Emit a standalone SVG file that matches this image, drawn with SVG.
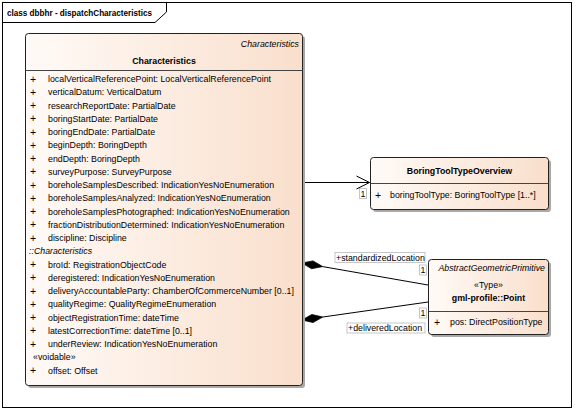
<svg xmlns="http://www.w3.org/2000/svg" width="576" height="413" viewBox="0 0 576 413">
<style>
text{font-family:"Liberation Sans",Arial,sans-serif;font-size:8.8px;fill:#000}
.b{font-weight:bold}
.i{font-style:italic}
.m{text-anchor:middle}
.e{text-anchor:end}
.p{font-size:10.5px}
.box{stroke:#222;stroke-width:1}
.sh{fill:#a9a9a9}
.div{stroke:#444;stroke-width:1}
.ln{stroke:#000;stroke-width:1;fill:none}
.lb{fill:#fff;stroke:#b8b8b8;stroke-width:0.8}
</style>
<defs>
<linearGradient id="g" x1="0" y1="0" x2="1" y2="0">
<stop offset="0" stop-color="#fffaf7"/>
<stop offset="1" stop-color="#f9dfcc"/>
</linearGradient>
</defs>
<rect width="576" height="413" fill="#fff"/>
<g id="frame">
<rect x="2.5" y="2.5" width="569" height="405" fill="none" stroke="#000"/>
<path d="M2.5 22.5 H155 L166.5 12 V2.5" fill="none" stroke="#000"/>
<text x="7" y="15.5" class="b" textLength="145" lengthAdjust="spacingAndGlyphs">class dbbhr - dispatchCharacteristics</text>
</g>
<g id="connectors">
<path class="ln" d="M302 182.5 H369.5"/>
<path class="ln" d="M356.5 176 L369.5 182.5 L356.5 189"/>
<rect class="lb" x="359.5" y="188.5" width="7" height="10"/>
<text x="363" y="196.5" class="m">1</text>
<path class="ln" d="M322.7 266.6 L428 285"/>
<polygon points="302,263 311.6,268.7 322.7,266.6 313,260.9" fill="#000" stroke="#000" stroke-width="0.8"/>
<path class="ln" d="M322.8 317 L428 302"/>
<polygon points="302,320 313,322.5 322.8,317 311.8,314.5" fill="#000" stroke="#000" stroke-width="0.8"/>
<rect class="lb" x="335" y="252.5" width="90" height="10"/>
<text x="336" y="260.5">+standardizedLocation</text>
<rect class="lb" x="419.5" y="265" width="7" height="10"/>
<text x="423" y="273" class="m">1</text>
<rect class="lb" x="419.5" y="308" width="7" height="10"/>
<text x="423" y="316" class="m">1</text>
<rect class="lb" x="347" y="323" width="78" height="10"/>
<text x="348" y="331">+deliveredLocation</text>
</g>
<g id="Characteristics">
<rect class="sh" x="28" y="36" width="277" height="352" rx="3"/>
<rect class="box" x="25.5" y="33.5" width="277" height="352" rx="3" fill="url(#g)"/>
<text x="299" y="47" class="i e">Characteristics</text>
<text x="164" y="64" class="b m">Characteristics</text>
<path class="div" d="M25.5 70.5 H302.5"/>
<g>
<text x="30" y="82.5" class="p">+</text><text x="48" y="82">localVerticalReferencePoint: LocalVerticalReferencePoint</text>
<text x="30" y="95.75" class="p">+</text><text x="48" y="95.25">verticalDatum: VerticalDatum</text>
<text x="30" y="109" class="p">+</text><text x="48" y="108.5">researchReportDate: PartialDate</text>
<text x="30" y="122.25" class="p">+</text><text x="48" y="121.75">boringStartDate: PartialDate</text>
<text x="30" y="135.5" class="p">+</text><text x="48" y="135">boringEndDate: PartialDate</text>
<text x="30" y="148.75" class="p">+</text><text x="48" y="148.25">beginDepth: BoringDepth</text>
<text x="30" y="162" class="p">+</text><text x="48" y="161.5">endDepth: BoringDepth</text>
<text x="30" y="175.25" class="p">+</text><text x="48" y="174.75">surveyPurpose: SurveyPurpose</text>
<text x="30" y="188.5" class="p">+</text><text x="48" y="188">boreholeSamplesDescribed: IndicationYesNoEnumeration</text>
<text x="30" y="201.75" class="p">+</text><text x="48" y="201.25">boreholeSamplesAnalyzed: IndicationYesNoEnumeration</text>
<text x="30" y="215" class="p">+</text><text x="48" y="214.5">boreholeSamplesPhotographed: IndicationYesNoEnumeration</text>
<text x="30" y="228.25" class="p">+</text><text x="48" y="227.75">fractionDistributionDetermined: IndicationYesNoEnumeration</text>
<text x="30" y="241.5" class="p">+</text><text x="48" y="241">discipline: Discipline</text>
<text x="29" y="254.25" class="i">::Characteristics</text>
<text x="30" y="268" class="p">+</text><text x="48" y="267.5">broId: RegistrationObjectCode</text>
<text x="30" y="281.25" class="p">+</text><text x="48" y="280.75">deregistered: IndicationYesNoEnumeration</text>
<text x="30" y="294.5" class="p">+</text><text x="48" y="294">deliveryAccountableParty: ChamberOfCommerceNumber [0..1]</text>
<text x="30" y="307.75" class="p">+</text><text x="48" y="307.25">qualityRegime: QualityRegimeEnumeration</text>
<text x="30" y="321" class="p">+</text><text x="48" y="320.5">objectRegistrationTime: dateTime</text>
<text x="30" y="334.25" class="p">+</text><text x="48" y="333.75">latestCorrectionTime: dateTime [0..1]</text>
<text x="30" y="347.5" class="p">+</text><text x="48" y="347">underReview: IndicationYesNoEnumeration</text>
<text x="33" y="360.25">&#171;voidable&#187;</text>
<text x="30" y="374" class="p">+</text><text x="48" y="373.5">offset: Offset</text>
</g>
</g>
<g id="BoringToolTypeOverview">
<rect class="sh" x="373" y="160" width="178" height="52" rx="3"/>
<rect class="box" x="370.5" y="157.5" width="178" height="52" rx="3" fill="url(#g)"/>
<text x="459.5" y="174" class="b m">BoringToolTypeOverview</text>
<path class="div" d="M370.5 183.5 H548.5"/>
<text x="375" y="198.5" class="p">+</text><text x="390" y="198">boringToolType: BoringToolType [1..*]</text>
</g>
<g id="Point">
<rect class="sh" x="431" y="262" width="120" height="75" rx="3"/>
<rect class="box" x="428.5" y="259.5" width="120" height="75" rx="3" fill="url(#g)"/>
<text x="545" y="271" class="i e">AbstractGeometricPrimitive</text>
<text x="488.5" y="288" class="m">&#171;Type&#187;</text>
<text x="488.5" y="301" class="b m">gml-profile::Point</text>
<path class="div" d="M428.5 311.5 H548.5"/>
<text x="434" y="325.5" class="p">+</text><text x="450" y="325">pos: DirectPositionType</text>
</g>
</svg>
